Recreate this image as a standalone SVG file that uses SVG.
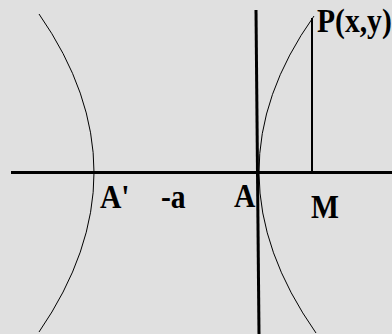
<svg xmlns="http://www.w3.org/2000/svg" width="392" height="334" viewBox="0 0 392 334">
<style>
.axis{stroke:#000;stroke-width:3;fill:none}
.curve{stroke:#000;stroke-width:1;fill:none}
.seg{stroke:#000;stroke-width:2;fill:none}
.lbl{font-family:"Liberation Serif","Times New Roman",serif;font-weight:bold;font-size:34px;fill:#000}
</style>
<rect width="392" height="334" fill="#e0e0e0"/>
<g id="connectors">
<line class="axis" x1="11" y1="172.5" x2="392" y2="172.5"/>
<line class="axis" x1="256" y1="10" x2="259" y2="334"/>
<path class="curve" d="M39,14 Q149,172 39,332"/>
<path class="curve" d="M314,16 Q203,172 316,333"/>
<line class="seg" x1="312" y1="18" x2="312" y2="171"/>
</g>
<g id="label-P"><text class="lbl" transform="translate(317,32) scale(0.87,1)">P(x,y)</text></g>
<g id="label-A1"><text class="lbl" transform="translate(100,208) scale(0.87,1)">A'</text></g>
<g id="label-a"><text class="lbl" transform="translate(161,208) scale(0.87,1)">-a</text></g>
<g id="label-A"><text class="lbl" transform="translate(234,207) scale(0.87,1)">A</text></g>
<g id="label-M"><text class="lbl" transform="translate(311,218) scale(0.87,1)">M</text></g>
</svg>
